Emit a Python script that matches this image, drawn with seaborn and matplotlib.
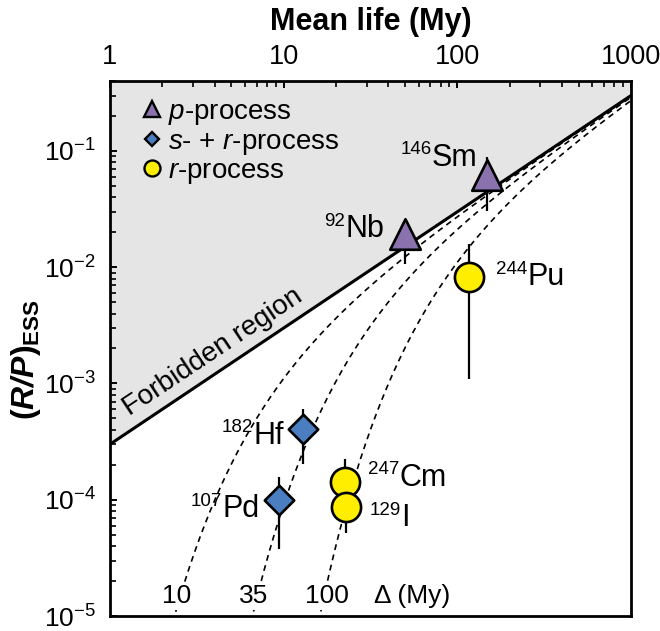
import numpy as np
import pandas as pd
import matplotlib
matplotlib.use("Agg")
import matplotlib.pyplot as plt
import seaborn as sns
from matplotlib.lines import Line2D
from matplotlib.ticker import LogLocator, FuncFormatter, NullFormatter

# ---------------- data ----------------
symbols = ["Nb", "Sm", "Pd", "Hf", "Cm", "I", "Pu"]
mass_numbers = ["92", "146", "107", "182", "247", "129", "244"]
process = ["p", "p", "s+r", "s+r", "r", "r", "r"]
mean_life_my = [50.0, 148.0, 9.4, 12.9, 22.5, 23.0, 117.0]
ratio_ess = [0.0192, 0.062, 1.0e-4, 4.1e-4, 1.43e-4, 8.7e-5, 0.0082]
ratio_low = [0.0107, 0.0305, 3.8e-5, 2.04e-4, 1.1e-4, 5.2e-5, 0.0011]
ratio_high = [0.020, 0.089, 1.58e-4, 6.0e-4, 2.25e-4, 1.0e-4, 0.0158]

delta_my = [10, 35, 100]            # isolation times of dashed curves
max_ratio_per_my = 3.0e-4           # forbidden-region boundary: R/P = k * tau
mean_life_range = [1.0, 1000.0]
x_tick_values = [1, 10, 100, 1000]

# ---------------- style ----------------
sns.set_style("ticks")
plt.rcParams.update({
    "font.family": ["Liberation Sans", "DejaVu Sans"],
    "mathtext.fontset": "custom",
    "mathtext.rm": "Liberation Sans",
    "mathtext.it": "Liberation Sans:italic",
    "mathtext.bf": "Liberation Sans:bold",
    "mathtext.bfit": "Liberation Sans:bold:italic",
    "mathtext.sf": "Liberation Sans",
    "axes.unicode_minus": True,
    "text.color": "black",
    "axes.labelcolor": "black",
    "axes.edgecolor": "black",
    "xtick.color": "black",
    "ytick.color": "black",
    "legend.labelcolor": "black",
})

colors = {"p": "#8a72ae", "s+r": "#4a7ec0", "r": "#ffee00"}
markers = {"p": "^", "s+r": "D", "r": "o"}
msizes = {"p": 22, "s+r": 15, "r": 21}

fig = plt.figure(figsize=(6.6, 6.31), dpi=100)
ax = fig.add_axes([110 / 660, 15 / 631, 521 / 660, 535 / 631])
ax.set_xscale("log")
ax.set_yscale("log")
ax.set_xlim(*mean_life_range)
ax.set_ylim(1e-5, 0.4)

# forbidden region
tau_line = np.array(mean_life_range)
ax.fill_between(tau_line, max_ratio_per_my * tau_line, 1.0, color="#e5e5e5", lw=0, zorder=0)
ax.plot(tau_line, max_ratio_per_my * tau_line, color="black", lw=2.2, zorder=2)

# dashed decay curves
tau_grid = np.logspace(0, 3, 400)
curves = pd.concat([
    pd.DataFrame({"tau": tau_grid,
                  "ratio": max_ratio_per_my * tau_grid * np.exp(-d / tau_grid),
                  "delta": d})
    for d in delta_my
])
sns.lineplot(data=curves, x="tau", y="ratio", units="delta", estimator=None,
             color="black", lw=1.2, linestyle=(0, (3.5, 2.8)), ax=ax, zorder=1,
             legend=False)

df = pd.DataFrame({"symbol": symbols, "mass": mass_numbers, "process": process,
                   "tau": mean_life_my, "ratio": ratio_ess,
                   "lo": ratio_low, "hi": ratio_high})

# error bars
ax.vlines(df["tau"], df["lo"], df["hi"], color="black", lw=1.6, zorder=3)

# points
for proc in ["p", "s+r", "r"]:
    sub = df[df["process"] == proc]
    sns.scatterplot(data=sub, x="tau", y="ratio", marker=markers[proc],
                    s=msizes[proc] ** 2, color=colors[proc], edgecolor="black",
                    linewidth=1.9, ax=ax, zorder=4, legend=False)

# isotope labels (offsets in points from each point)
label_offsets = {"Nb": (-43, -2), "Sm": (-39.6, 6.8), "Pd": (-41, -12.7),
                 "Hf": (-35.3, -10.8), "Cm": (39.6, -2.9), "I": (39.6, -13.7),
                 "Pu": (41.8, -5.8)}
for _, row in df.iterrows():
    dx, dy = label_offsets[row["symbol"]]
    ax.annotate(row["symbol"], (row["tau"], row["ratio"]), xytext=(dx, dy),
                textcoords="offset points", ha="left", va="baseline",
                fontsize=22, color="black", zorder=5)
    ax.annotate(row["mass"], (row["tau"], row["ratio"]), xytext=(dx - 0.3, dy + 17.5),
                textcoords="offset points", ha="right", va="top",
                fontsize=13.5, color="black", zorder=5)

# curve labels
curve_label_x = [2.43, 6.75, 17.8]
for d, xl in zip(delta_my, curve_label_x):
    ax.text(xl, 1.3e-5, f"{d}", ha="center", va="baseline", fontsize=19,
            bbox=dict(facecolor="white", edgecolor="none", pad=1.5), zorder=3)
ax.text(54.8, 1.3e-5, "Δ (My)", ha="center", va="baseline", fontsize=19, zorder=3)

# forbidden region label
ax.text(3.92, 1.85e-3, "Forbidden region", rotation=33.7, rotation_mode="anchor",
        ha="center", va="center", fontsize=20, zorder=3)

# legend
handles = [
    Line2D([], [], ls="none", marker="^", ms=11.5, mfc=colors["p"], mec="black", mew=1.7),
    Line2D([], [], ls="none", marker="D", ms=7.5, mfc=colors["s+r"], mec="black", mew=1.7),
    Line2D([], [], ls="none", marker="o", ms=11.5, mfc=colors["r"], mec="black", mew=1.7),
]
labels = [r"$p$-process", r"$s$- + $r$-process", r"$r$-process"]
ax.legend(handles, labels, loc="upper left", bbox_to_anchor=(0.068, 0.966),
          frameon=False, fontsize=20, handlelength=0.5, handletextpad=0.3,
          labelspacing=0.05, borderpad=0, borderaxespad=0)

# axes, ticks
for sp in ax.spines.values():
    sp.set_linewidth(2.0)
    sp.set_color("black")
    sp.set_visible(True)
ax.xaxis.set_minor_locator(LogLocator(base=10, subs=range(2, 10), numticks=20))
ax.xaxis.set_minor_formatter(NullFormatter())
ax.yaxis.set_major_locator(LogLocator(base=10, numticks=10))
ax.yaxis.set_minor_locator(LogLocator(base=10, subs=range(2, 10), numticks=20))
ax.yaxis.set_minor_formatter(NullFormatter())
ax.set_xticks(x_tick_values)
ax.xaxis.set_major_formatter(FuncFormatter(lambda v, p: f"{v:g}"))
ax.tick_params(axis="x", which="both", bottom=False, top=True, labelbottom=False,
               labeltop=True, direction="in", labelsize=19.5, pad=8)
ax.tick_params(axis="y", which="both", left=True, right=False, direction="in",
               labelsize=19, pad=10)
ax.tick_params(which="major", length=5, width=1.4)
ax.tick_params(which="minor", length=4, width=1.2)

ax.set_xlabel("Mean life (My)", fontsize=22, fontweight="bold")
ax.xaxis.set_label_position("top")
ax.xaxis.set_label_coords(0.5, 1.095)
ax.set_ylabel(r"$\mathbf{(}\mathbfit{R/P}\mathbf{)}_{\mathbf{ESS}}$", fontsize=23)
ax.yaxis.set_label_coords(-0.128, 0.48)

fig.savefig("out.png", dpi=100)
